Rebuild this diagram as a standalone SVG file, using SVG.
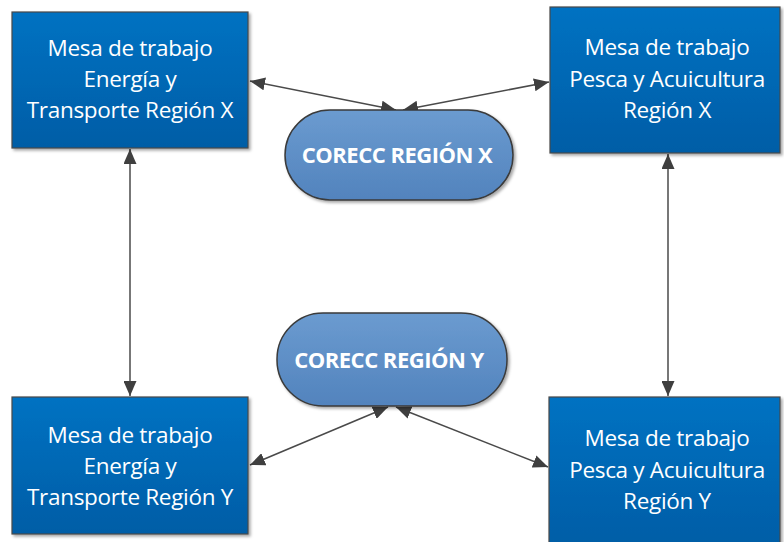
<svg xmlns="http://www.w3.org/2000/svg" width="784" height="542" viewBox="0 0 784 542">
<style>
.box{fill:url(#gBox);stroke:#4a4a4a;stroke-width:1.2;filter:url(#sh)}
.pill{fill:url(#gPill);stroke:#3a3a3a;stroke-width:1.5;filter:url(#sh)}
.t{font-family:"Open Sans","Liberation Sans",sans-serif;font-size:22.5px;fill:#ffffff;text-anchor:middle;letter-spacing:-0.3px}
.tb{font-family:"Open Sans","Liberation Sans",sans-serif;font-size:22px;font-weight:bold;fill:#ffffff;text-anchor:middle;letter-spacing:-0.5px}
.c{stroke:#4a4a4a;stroke-width:1.5;fill:none;marker-start:url(#ah);marker-end:url(#ah)}
</style>
<defs>
<linearGradient id="gBox" x1="0" y1="0" x2="0" y2="1">
<stop offset="0" stop-color="#0072C2"/>
<stop offset="1" stop-color="#005DA6"/>
</linearGradient>
<linearGradient id="gPill" x1="0" y1="0" x2="0" y2="1">
<stop offset="0" stop-color="#6B9BD0"/>
<stop offset="1" stop-color="#5283BD"/>
</linearGradient>
<filter id="sh" x="-10%" y="-10%" width="125%" height="125%">
<feDropShadow dx="2" dy="2" stdDeviation="1.5" flood-color="#000" flood-opacity="0.35"/>
</filter>
<marker id="ah" viewBox="0 0 10 10" refX="10" refY="5" markerWidth="15" markerHeight="13" markerUnits="userSpaceOnUse" orient="auto-start-reverse" preserveAspectRatio="none">
<path d="M0,0 L10,5 L0,10 z" fill="#3f3f3f"/>
</marker>
</defs>
<g id="connectors">
<line class="c" x1="250" y1="81" x2="396" y2="110"/>
<line class="c" x1="403" y1="110" x2="549" y2="82"/>
<line class="c" x1="130" y1="149" x2="130" y2="396"/>
<line class="c" x1="668" y1="154" x2="668" y2="396"/>
<line class="c" x1="388" y1="407" x2="250" y2="465"/>
<line class="c" x1="396" y1="407" x2="548" y2="467"/>
</g>
<g id="mesa-energia-x">
<rect class="box" x="12" y="12" width="236" height="136"/>
<text class="t" x="130" y="56">Mesa de trabajo</text>
<text class="t" x="130" y="87">Energía y</text>
<text class="t" x="130" y="118">Transporte Región X</text>
</g>
<g id="mesa-pesca-x">
<rect class="box" x="550" y="7" width="230" height="146"/>
<text class="t" x="667" y="55">Mesa de trabajo</text>
<text class="t" x="667" y="87">Pesca y Acuicultura</text>
<text class="t" x="667" y="118">Región X</text>
</g>
<g id="corecc-x">
<rect class="pill" x="285" y="110" width="228" height="90" rx="45" ry="45"/>
<text class="tb" x="397" y="163">CORECC REGIÓN X</text>
</g>
<g id="corecc-y">
<rect class="pill" x="277" y="313" width="230" height="93" rx="46" ry="46"/>
<text class="tb" x="389" y="368">CORECC REGIÓN Y</text>
</g>
<g id="mesa-energia-y">
<rect class="box" x="12" y="397" width="236" height="137"/>
<text class="t" x="130" y="443">Mesa de trabajo</text>
<text class="t" x="130" y="474">Energía y</text>
<text class="t" x="130" y="505">Transporte Región Y</text>
</g>
<g id="mesa-pesca-y">
<rect class="box" x="549" y="397" width="231" height="150"/>
<text class="t" x="667" y="446">Mesa de trabajo</text>
<text class="t" x="667" y="478">Pesca y Acuicultura</text>
<text class="t" x="667" y="509">Región Y</text>
</g>
</svg>
